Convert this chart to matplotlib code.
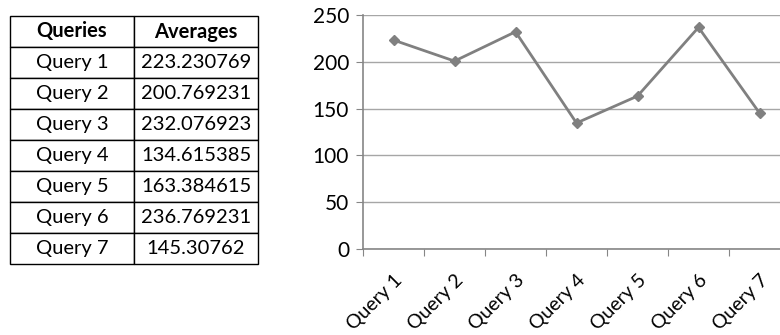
import matplotlib
matplotlib.use("Agg")
import matplotlib.pyplot as plt

queries = ["Query 1", "Query 2", "Query 3", "Query 4", "Query 5", "Query 6", "Query 7"]
averages = [223.230769, 200.769231, 232.076923, 134.615385, 163.384615, 236.769231, 145.30762]
avg_labels = ["223.230769", "200.769231", "232.076923", "134.615385",
              "163.384615", "236.769231", "145.30762"]
header = ["Queries", "Averages"]
yticks = [0, 50, 100, 150, 200, 250]

plt.rcParams['font.family'] = ['Lato', 'DejaVu Sans']

fig = plt.figure(figsize=(7.8, 3.35), dpi=100)

# --- table on the left ---
tax = fig.add_axes([10 / 780, 1 - 264 / 335, 248 / 780, 248 / 335])
tax.axis('off')
cells = [[q, a] for q, a in zip(queries, avg_labels)]
tbl = tax.table(cellText=cells, colLabels=header, cellLoc='center',
                bbox=[0, 0, 1, 1])
tbl.auto_set_font_size(False)
for (r, c), cell in tbl.get_celld().items():
    cell.set_edgecolor('black')
    cell.set_linewidth(1.0)
    cell.get_text().set_fontsize(14.5)
    if r == 0:
        cell.get_text().set_fontweight('bold')

# --- line chart on the right ---
ax = fig.add_axes([363 / 780, 86 / 335, 427 / 780, 234 / 335])
x = list(range(1, len(queries) + 1))
ax.plot(x, averages, color='#808080', lw=2, marker='D', markersize=5.5,
        markerfacecolor='#808080', markeredgecolor='#808080', clip_on=False)
ax.set_xlim(0.5, 7.5)
ax.set_ylim(0, 250)
ax.set_yticks(yticks)
ax.yaxis.grid(True, color='#a6a6a6', lw=1)
ax.set_axisbelow(True)

ax.set_xticks([i + 0.5 for i in range(len(queries) + 1)], minor=False)
ax.set_xticklabels([])
ax.set_xticks(x, minor=True)
ax.set_xticklabels(queries, minor=True, rotation=45, ha='right',
                   rotation_mode='anchor', fontsize=14)
ax.tick_params(axis='x', which='minor', length=0, pad=16)
ax.tick_params(axis='x', which='major', length=5, color='#868686')
ax.tick_params(axis='y', length=5, color='#868686', labelsize=15, pad=5)

for side in ['top', 'right']:
    ax.spines[side].set_visible(False)
for side in ['left', 'bottom']:
    ax.spines[side].set_color('#868686')
    ax.spines[side].set_linewidth(1.2)

fig.savefig("out.png", dpi=100)
